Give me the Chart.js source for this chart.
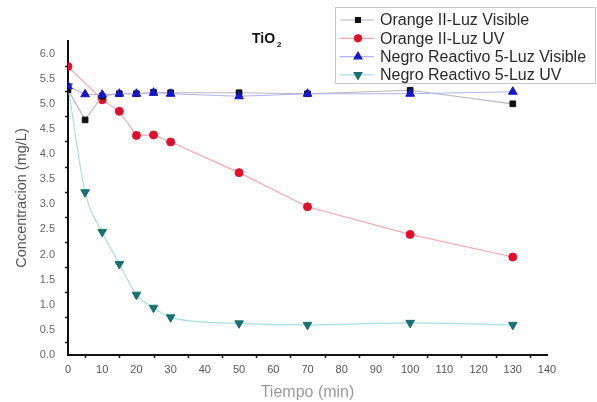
<!DOCTYPE html>
<html><head><meta charset="utf-8">
<script src="https://cdn.jsdelivr.net/npm/chart.js@4"></script>
<style>html,body{margin:0;padding:0;background:#fff}#wrap{width:597px;height:402px;position:relative}</style>
</head><body><div id="wrap"><canvas id="c" width="597" height="402"></canvas></div>
<script>
const times = [0, 5, 10, 15, 20, 25, 30, 50, 70, 100, 130];
const orangeVisible = [5.28, 4.68, 5.15, 5.2, 5.2, 5.23, 5.22, 5.22, 5.2, 5.27, 5.0];
const orangeUV = [5.74, null, 5.08, 4.85, 4.37, 4.38, 4.24, 3.63, 2.95, 2.4, 1.95];
const negroVisible = [5.35, 5.19, 5.18, 5.2, 5.2, 5.22, 5.2, 5.15, 5.2, 5.2, 5.24];
const negroUV = [5.35, 3.24, 2.45, 1.81, 1.2, 0.94, 0.75, 0.63, 0.6, 0.64, 0.6];
const labels = ["Orange II-Luz Visible", "Orange II-Luz UV", "Negro Reactivo 5-Luz Visible", "Negro Reactivo 5-Luz UV"];
const yTicks = [0, 0.5, 1, 1.5, 2, 2.5, 3, 3.5, 4, 4.5, 5, 5.5, 6];
const xTicks = [0, 10, 20, 30, 40, 50, 60, 70, 80, 90, 100, 110, 120, 130, 140];

function pts(arr){ return times.map((t,i)=>({x:t,y:arr[i]})).filter(p=>p.y!==null); }

const styles = [
  {line:'#b8b8c0', mark:'#111111', ps:'rect', r:4, rot:0},
  {line:'#f7a8b0', mark:'#e0102a', ps:'circle', r:4, rot:0},
  {line:'#b0b4f0', mark:'#1616c8', ps:'triangle', r:5, rot:0},
  {line:'#a8e0e0', mark:'#1a7070', ps:'triangle', r:5, rot:180}
];
const series = [orangeVisible, orangeUV, negroVisible, negroUV];
const datasets = series.map((s,i)=>({
  label: labels[i], data: pts(s),
  borderColor: styles[i].line, borderWidth: 1.2,
  pointBackgroundColor: styles[i].mark, pointBorderColor: styles[i].mark,
  pointStyle: styles[i].ps, pointRadius: styles[i].r, pointRotation: styles[i].rot,
  pointBorderWidth: 1, tension: i===3 ? 0.35 : 0, cubicInterpolationMode: i===3?'monotone':'default',
  order: [2,3,1,4][i]
}));

const F = "'Liberation Sans', Arial, sans-serif";

const extras = {
  id:'extras',
  afterDraw(chart){
    const ctx = chart.ctx, xs = chart.scales.x, ys = chart.scales.y;
    const ca = chart.chartArea;
    ctx.save();
    ctx.strokeStyle = '#111'; ctx.lineWidth = 1.5;
    // minor ticks
    for (let v=0.25; v<6.25; v+=0.5){
      const y = Math.round(ys.getPixelForValue(v))+0.5;
      ctx.beginPath(); ctx.moveTo(ca.left-3, y); ctx.lineTo(ca.left, y); ctx.stroke();
    }
    for (let v=5; v<140; v+=10){
      const x = Math.round(xs.getPixelForValue(v))+0.5;
      ctx.beginPath(); ctx.moveTo(x, ca.bottom); ctx.lineTo(x, ca.bottom+3); ctx.stroke();
    }
    // title
    ctx.fillStyle = '#111';
    ctx.font = "bold 14px " + F;
    ctx.textBaseline = 'alphabetic';
    ctx.fillText('TiO', 252, 43);
    const w = ctx.measureText('TiO').width;
    ctx.font = "bold 8px " + F;
    ctx.fillText('2', 252 + w + 2, 47);
    // legend
    const lx = 335.5, ly = 7.5, lw = 260, lh = 76;
    ctx.fillStyle = '#fff';
    ctx.fillRect(lx, ly, lw, lh);
    ctx.strokeStyle = '#c8c8c8'; ctx.lineWidth = 1;
    ctx.strokeRect(lx, ly, lw, lh);
    chart.data.datasets.forEach((ds,i)=>{
      const y = 20 + i*18.3;
      ctx.strokeStyle = ds.borderColor; ctx.lineWidth = 1.2;
      ctx.beginPath(); ctx.moveTo(340, y); ctx.lineTo(374, y); ctx.stroke();
      ctx.fillStyle = ds.pointBackgroundColor; ctx.strokeStyle = ds.pointBorderColor;
      Chart.helpers.drawPoint(ctx, {pointStyle: ds.pointStyle, radius: ds.pointRadius - 0.5, rotation: ds.pointRotation, borderWidth:1}, 358, y);
      ctx.fillStyle = '#2a2a2a';
      ctx.font = "16px " + F;
      ctx.textBaseline = 'middle';
      ctx.fillText(ds.label, 380, y + 1);
    });
    ctx.restore();
  }
};

new Chart(document.getElementById('c'), {
  type: 'line',
  data: { datasets },
  options: {
    responsive: false, animation: false,
    layout: { padding: { top: 41, right: 50, left: 0, bottom: 0 } },
    plugins: { legend: { display: false }, tooltip: { enabled: false } },
    scales: {
      x: {
        type: 'linear', min: 0, max: 140,
        afterBuildTicks(s){ s.ticks = xTicks.map(v=>({value:v})); },
        afterFit(s){ s.height = 47; },
        grid: { display: false, drawTicks: true, tickLength: 5, tickColor: '#111', tickWidth: 1.5 },
        border: { display: true, color: '#111', width: 2 },
        ticks: { color: '#555', font: { family: F, size: 11 }, padding: 3, maxRotation: 0 },
        title: { display: true, text: 'Tiempo (min)', color: '#999', font: { family: F, size: 16 }, padding: { top: 1, bottom: 0 } }
      },
      y: {
        type: 'linear', min: 0, max: 6.25,
        afterBuildTicks(s){ s.ticks = yTicks.map(v=>({value:v})); },
        afterFit(s){ s.width = 68; },
        grid: { display: false, drawTicks: true, tickLength: 6, tickColor: '#111', tickWidth: 1.5 },
        border: { display: true, color: '#111', width: 2 },
        ticks: { color: '#666', font: { family: F, size: 11 }, padding: 7, callback: v => v.toFixed(1) },
        title: { display: true, text: 'Concentracion (mg/L)', color: '#555', font: { family: F, size: 14.5 }, padding: { top: 13, bottom: 4 } }
      }
    }
  },
  plugins: [extras]
});
</script></body></html>
